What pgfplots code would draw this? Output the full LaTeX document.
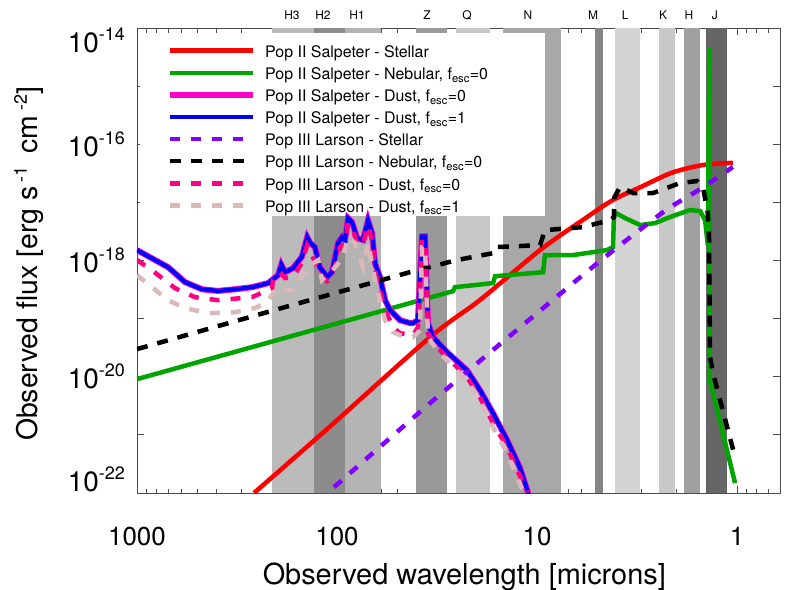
\documentclass[border=0pt]{standalone}
\usepackage{fontspec}
\setmainfont{TeX Gyre Heros}
\usepackage{pgfplots}
\pgfplotsset{compat=1.18}
\definecolor{cRed}{RGB}{255,0,0}
\definecolor{cGreen}{RGB}{0,165,0}
\definecolor{cMag}{RGB}{255,0,200}
\definecolor{cBlue}{RGB}{0,0,255}
\definecolor{cPurp}{RGB}{130,0,255}
\definecolor{cPink}{RGB}{255,0,130}
\definecolor{cRosy}{RGB}{220,185,185}
\definecolor{bH3}{RGB}{187,187,187}
\definecolor{bH2}{RGB}{140,140,140}
\definecolor{bH1}{RGB}{180,180,180}
\definecolor{bZ}{RGB}{153,153,153}
\definecolor{bQ}{RGB}{200,200,200}
\definecolor{bN}{RGB}{168,168,168}
\definecolor{bM}{RGB}{133,133,133}
\definecolor{bL}{RGB}{212,212,212}
\definecolor{bK}{RGB}{200,200,200}
\definecolor{bH}{RGB}{160,160,160}
\definecolor{bJ}{RGB}{102,102,102}
\newcommand{\sps}[1]{\raisebox{12bp}{\fontsize{18}{18}\selectfont #1}}
\newcommand{\lsp}[1]{\raisebox{11bp}{\fontsize{18}{18}\selectfont #1}}
\newcommand{\legfont}{\fontsize{16}{18}\selectfont}
\begin{document}
\begin{tikzpicture}
\path[use as bounding box] (-137bp,-97bp) rectangle (650bp,493bp);
\begin{axis}[
  at={(0,0)}, anchor=south west,
  scale only axis, width=643bp, height=465bp,
  xmode=log, ymode=log, x dir=reverse,
  xmin=0.61, xmax=1000, ymin=1e-22, ymax=1e-14,
  enlargelimits=false,
  clip mode=individual,
  xtick={1,10,100,1000}, xticklabels={1,10,100,1000},
  minor xtick={0.7,0.8,0.9,2,3,4,5,6,7,8,9,20,30,40,50,60,70,80,90,200,300,400,500,600,700,800,900},
  ytick={1e-22,1e-21,1e-20,1e-19,1e-18,1e-17,1e-16,1e-15,1e-14},
  yticklabels={\raisebox{13.5bp}[\height][\depth]{10\sps{-22}},{},10\sps{-20},{},10\sps{-18},{},10\sps{-16},{},\raisebox{-12bp}[\height][\depth]{10\sps{-14}}},
  yminorticks=false,
  tick align=inside,
  major tick length=7bp, minor tick length=4.5bp,
  axis line style={draw=black!70, line width=0.8bp},
  every tick/.style={draw=black!70, line width=0.8bp},
  xticklabel style={font=\fontsize{26}{28}\selectfont, inner sep=0pt, anchor=north, yshift=-34bp},
  yticklabel style={font=\fontsize{28}{30}\selectfont, inner sep=0pt, anchor=east, xshift=-12bp},
  xlabel={Observed wavelength [microns]},
  xlabel style={font=\fontsize{29}{31}\selectfont, at={(axis description cs:0.509,0)}, anchor=base, yshift=-91bp},
  ylabel={Observed flux [erg s\,\lsp{-1}\, cm\,\lsp{-2}]},
  ylabel style={font=\fontsize{28.5}{30}\selectfont, at={(axis description cs:-0.154,0.4925)}, anchor=base, rotate=0},
  legend style={at={(axis description cs:0.0467,0.9598)}, anchor=north west, fill=none, draw=none,
    inner sep=0pt, row sep=8.6bp, column sep=9bp,
    nodes={inner sep=0pt, text height=10.5bp, text depth=3bp, font=\legfont}},
  legend cell align=left,
  legend image code/.code={\draw[#1] (0bp,3bp) -- (83bp,3bp);},
]
% photometric bands
\addplot[fill=bH3, draw=none, forget plot] coordinates {(211,1e-22) (211,1e-14) (130,1e-14) (130,1e-22)} -- cycle;
\addplot[fill=bH2, draw=none, forget plot] coordinates {(130,1e-22) (130,1e-14) (91,1e-14) (91,1e-22)} -- cycle;
\addplot[fill=bH1, draw=none, forget plot] coordinates {(91,1e-22) (91,1e-14) (60,1e-14) (60,1e-22)} -- cycle;
\addplot[fill=bZ, draw=none, forget plot] coordinates {(40.3,1e-22) (40.3,1e-14) (28.2,1e-14) (28.2,1e-22)} -- cycle;
\addplot[fill=bQ, draw=none, forget plot] coordinates {(25.4,1e-22) (25.4,1e-14) (17.2,1e-14) (17.2,1e-22)} -- cycle;
\addplot[fill=bN, draw=none, forget plot] coordinates {(14.8,1e-22) (14.8,1e-14) (7.59,1e-14) (7.59,1e-22)} -- cycle;
\addplot[fill=bM, draw=none, forget plot] coordinates {(5.13,1e-22) (5.13,1e-14) (4.68,1e-14) (4.68,1e-22)} -- cycle;
\addplot[fill=bL, draw=none, forget plot] coordinates {(4.07,1e-22) (4.07,1e-14) (3.05,1e-14) (3.05,1e-22)} -- cycle;
\addplot[fill=bK, draw=none, forget plot] coordinates {(2.45,1e-22) (2.45,1e-14) (2.04,1e-14) (2.04,1e-22)} -- cycle;
\addplot[fill=bH, draw=none, forget plot] coordinates {(1.84,1e-22) (1.84,1e-14) (1.53,1e-14) (1.53,1e-22)} -- cycle;
\addplot[fill=bJ, draw=none, forget plot] coordinates {(1.43,1e-22) (1.43,1e-14) (1.12,1e-14) (1.12,1e-22)} -- cycle;
% legend background
\fill[white] (axis description cs:0.005,0.9886) rectangle (axis description cs:0.6345,0.5957);
% band labels
\begin{scope}[every node/.style={anchor=base, font=\fontsize{12}{12}\selectfont, inner sep=0pt, yshift=8.7bp}]
\node at (axis cs:168,1e-14) {H3};
\node at (axis cs:117.5,1e-14) {H2};
\node at (axis cs:79.4,1e-14) {H1};
\node at (axis cs:35.5,1e-14) {Z};
\node at (axis cs:22.4,1e-14) {Q};
\node at (axis cs:11.1,1e-14) {N};
\node at (axis cs:5.25,1e-14) {M};
\node at (axis cs:3.63,1e-14) {L};
\node at (axis cs:2.34,1e-14) {K};
\node at (axis cs:1.74,1e-14) {H};
\node at (axis cs:1.29,1e-14) {J};
\end{scope}
% Pop II Salpeter - Stellar
\addplot[cRed, line width=4.5bp, smooth] coordinates {
(260,1e-22) (108,1.41e-21) (34.3,4.79e-20) (19.3,2.09e-19) (9.66,1.51e-18) (5.89,5.01e-18)
(4.17,1.10e-17) (3.05,1.82e-17) (2.16,3.16e-17) (1.66,4.07e-17) (1.36,4.57e-17) (1.05,4.79e-17)};
\addlegendentry{Pop II Salpeter - Stellar}
% Pop II Salpeter - Nebular
\addplot[cGreen, line width=4.5bp] coordinates {
(1000,9.1e-21) (43.2,1.85e-19) (26.3,2.97e-19) (25.7,3.48e-19) (16.6,4.08e-19) (16.2,5.38e-19)
(9.33,6.3e-19) (9.12,1.24e-18) (6.61,1.24e-18) (4.47,1.51e-18) (4.17,1.70e-18) (4.12,6.8e-18)
(3.63,5.37e-18) (3.05,4.07e-18) (2.57,4.4e-18) (2.16,5.6e-18) (1.72,7.4e-18) (1.53,7.1e-18)
(1.445,4.95e-18) (1.40,1.84e-18) (1.375,4.5e-15) (1.37,8.7e-21) (1.318,5.2e-21) (1.023,1.48e-22)};
\addlegendentry{Pop II Salpeter - Nebular, f\textsubscript{esc}=0}
% Pop II Salpeter - Dust fesc=0
\addplot[cMag, line width=6bp] coordinates {
(1000,1.51e-18) (700,7.7e-19) (575,4.25e-19) (473,3.2e-19) (394,3.0e-19) (324,3.2e-19) (266,3.48e-19)
(221,4.08e-19) (197,5.6e-19) (190,8.5e-19) (182,6.3e-19) (166,7.4e-19) (150,1.15e-18) (141,2.53e-18)
(136,2.0e-18) (129,1.70e-18) (122,7.7e-19) (112,5.2e-19) (106,6.3e-19) (98.9,2.0e-18) (94.4,2.53e-18)
(91.2,2.25e-18) (88.1,5.37e-18) (84.1,4.58e-18) (79.4,2.43e-18) (74.1,2.25e-18) (70.0,4.95e-18)
(66.8,2.96e-18) (64.6,9.0e-19) (61.0,5.2e-19) (57.5,2.08e-19) (54.3,1.40e-19) (48.4,9.4e-20)
(43.2,8.4e-20) (41.7,8.4e-20) (39.4,9.4e-20) (37.6,2.6e-18) (36.3,2.6e-18) (35.1,8.4e-20)
(33.1,4.8e-20) (28.2,2.65e-20) (22.4,1.30e-20) (19.3,5.9e-21) (16.6,2.36e-21) (14.1,8.1e-22)
(12.2,2.78e-22) (11.1,1.03e-22) (10.8,7e-23)};
\addlegendentry{Pop II Salpeter - Dust, f\textsubscript{esc}=0}
% Pop II Salpeter - Dust fesc=1
\addplot[cBlue, line width=4.2bp] coordinates {
(1000,1.51e-18) (700,7.7e-19) (575,4.25e-19) (473,3.2e-19) (394,3.0e-19) (324,3.2e-19) (266,3.48e-19)
(221,4.08e-19) (197,5.6e-19) (190,8.5e-19) (182,6.3e-19) (166,7.4e-19) (150,1.15e-18) (141,2.53e-18)
(136,2.0e-18) (129,1.70e-18) (122,7.7e-19) (112,5.2e-19) (106,6.3e-19) (98.9,2.0e-18) (94.4,2.53e-18)
(91.2,2.25e-18) (88.1,5.37e-18) (84.1,4.58e-18) (79.4,2.43e-18) (74.1,2.25e-18) (70.0,4.95e-18)
(66.8,2.96e-18) (64.6,9.0e-19) (61.0,5.2e-19) (57.5,2.08e-19) (54.3,1.40e-19) (48.4,9.4e-20)
(43.2,8.4e-20) (41.7,8.4e-20) (39.4,9.4e-20) (37.6,2.6e-18) (36.3,2.6e-18) (35.1,8.4e-20)
(33.1,4.8e-20) (28.2,2.65e-20) (22.4,1.30e-20) (19.3,5.9e-21) (16.6,2.36e-21) (14.1,8.1e-22)
(12.2,2.78e-22) (11.1,1.03e-22) (10.8,7e-23)};
\addlegendentry{Pop II Salpeter - Dust, f\textsubscript{esc}=1}
% Pop III Larson - Stellar
\addplot[cPurp, line width=4.5bp, dash pattern=on 10bp off 11bp, smooth] coordinates {
(103.5,1.26e-22) (31.6,4.46e-21) (10,1.24e-19) (4.84,9.8e-19) (2.34,6.8e-18) (1.53,1.69e-17) (1.05,4.06e-17)};
\addlegendentry{Pop III Larson - Stellar}
% Pop III Larson - Nebular
\addplot[black, line width=4.5bp, dash pattern=on 11bp off 10bp] coordinates {
(1000,2.99e-20) (182,1.58e-19) (43.2,6.3e-19) (25.1,1.02e-18) (16.6,1.34e-18) (16.2,1.70e-18)
(9.66,1.84e-18) (9.12,3.33e-18) (5.89,3.76e-18) (4.32,4.95e-18) (4.12,5.58e-18) (4.10,1.23e-17)
(3.85,1.83e-17) (3.31,1.45e-17) (2.63,1.45e-17) (1.93,2.15e-17) (1.585,2.33e-17) (1.48,1.83e-17)
(1.40,6.55e-18) (1.38,2.24e-18) (1.365,2.17e-20) (1.318,1.15e-20) (1.023,4.13e-22)};
\addlegendentry{Pop III Larson - Nebular, f\textsubscript{esc}=0}
% Pop III Larson - Dust fesc=0
\addplot[cPink, line width=4.5bp, dash pattern=on 10bp off 11bp] coordinates {
(1000,1.02e-18) (841,6.8e-19) (646,3.35e-19) (513,2.34e-19) (394,2.08e-19) (266,2.34e-19) (211,3.35e-19)
(209,4.6e-19) (193,6.3e-19) (182,5.0e-19) (166,5.2e-19) (150,9e-19) (141,1.84e-18) (136,1.5e-18)
(122,5.6e-19) (112,4.4e-19) (106,5.2e-19) (96.6,1.70e-18) (91.2,1.9e-18) (88.1,4.40e-18) (84.1,3.8e-18)
(79.4,2.0e-18) (74.1,1.9e-18) (70.0,4.06e-18) (66.8,2.2e-18) (64.6,6.8e-19) (57.5,1.40e-19)
(52.5,7.1e-20) (48.4,5.6e-20) (41.7,5.2e-20) (39.4,7.1e-20) (37.6,2.25e-18) (36.3,2.25e-18)
(35.1,5.6e-20) (31.6,3.23e-20) (28.2,2.17e-20) (22.4,9.8e-21) (19.3,4.46e-21) (16.6,1.59e-21)
(14.1,6.1e-22) (11.2,1.03e-22)};
\addlegendentry{Pop III Larson - Dust, f\textsubscript{esc}=0}
% Pop III Larson - Dust fesc=1
\addplot[cRosy, line width=4.5bp, dash pattern=on 10bp off 11bp] coordinates {
(1000,5.6e-19) (841,3.48e-19) (700,2.08e-19) (575,1.52e-19) (442,1.24e-19) (324,1.29e-19) (257,1.52e-19)
(224,1.92e-19) (200,3.35e-19) (186,3.10e-19) (166,3.10e-19) (141,7.7e-19) (124,1.02e-18) (119,4.6e-19)
(105,6.8e-19) (93.3,1.15e-18) (88.1,2.53e-18) (81.3,2.0e-18) (74.1,7.7e-19) (70.0,2.0e-18) (64.6,4.6e-19)
(57.5,9.4e-20) (52.5,5.9e-20) (48.4,5.2e-20) (41.7,4.8e-20) (38.5,6.3e-20) (37.6,1.70e-18) (36.3,1.70e-18)
(35.1,4.8e-20) (31.6,2.87e-20) (28.2,1.93e-20) (22.4,8.7e-21) (19.3,3.95e-21) (16.6,1.36e-21)
(14.1,4.84e-22) (11.7,1.03e-22)};
\addlegendentry{Pop III Larson - Dust, f\textsubscript{esc}=1}
\end{axis}
\end{tikzpicture}
\end{document}
